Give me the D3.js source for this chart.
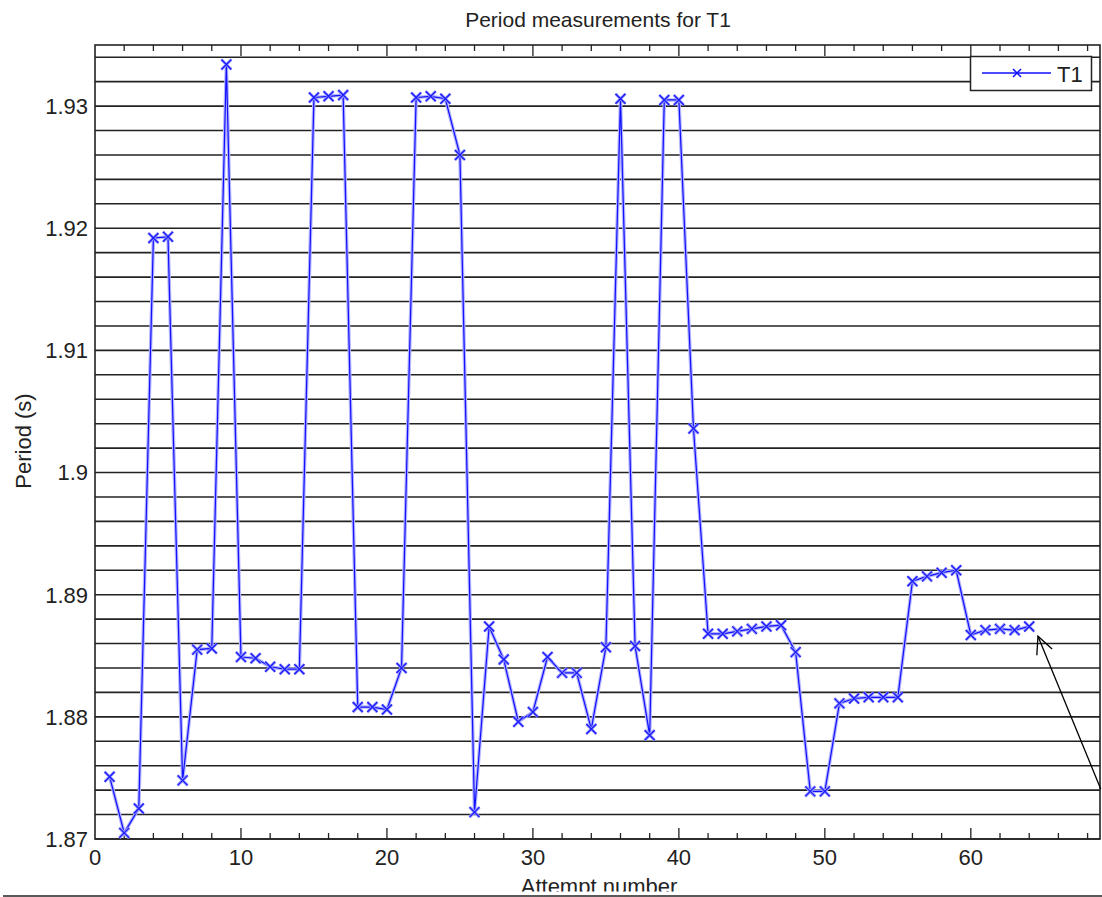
<!DOCTYPE html>
<html>
<head>
<meta charset="utf-8">
<script src="https://cdn.jsdelivr.net/npm/d3@7"></script>
<style>
  body { margin: 0; background: #fff; }
  svg { display: block; font-family: "Liberation Sans", Arial, sans-serif; }
</style>
</head>
<body>
<div id="chart"></div>
<script>
// Period measurements, attempts 1..64
const attempts = d3.range(1, 65);
const periods = [
  1.8751, 1.8705, 1.8725, 1.9192, 1.9193, 1.8748, 1.8855, 1.8856, 1.9334, 1.8849,
  1.8848, 1.8841, 1.8839, 1.8839, 1.9307, 1.9308, 1.9309, 1.8808, 1.8808, 1.8806,
  1.8840, 1.9307, 1.9308, 1.9306, 1.9260, 1.8722, 1.8874, 1.8847, 1.8796, 1.8804,
  1.8849, 1.8836, 1.8836, 1.8790, 1.8857, 1.9306, 1.8858, 1.8785, 1.9305, 1.9305,
  1.9036, 1.8868, 1.8868, 1.8870, 1.8872, 1.8874, 1.8875, 1.8853, 1.8739, 1.8739,
  1.8811, 1.8815, 1.8816, 1.8816, 1.8816, 1.8911, 1.8915, 1.8918, 1.8920, 1.8867,
  1.8871, 1.8872, 1.8871, 1.8874
];
const xTicks = [0, 10, 20, 30, 40, 50, 60];
const yTicks = [1.87, 1.88, 1.89, 1.9, 1.91, 1.92, 1.93];
const seriesName = "T1";
// annotation arrow (tail -> tip) in data units
const arrowTail = [68.9, 1.8741];
const arrowTip = [64.6, 1.8866];

const W = 1102, H = 897;
const margin = {top: 45, right: 2, bottom: 58, left: 95};

const svg = d3.select("#chart").append("svg")
    .attr("width", W)
    .attr("height", H);

const x = d3.scaleLinear().domain([0, 68.85]).range([margin.left, W - margin.right]);
const y = d3.scaleLinear().domain([1.87, 1.935]).range([H - margin.bottom, margin.top]);

const x0 = x.range()[0], x1 = x.range()[1];
const y0 = y.range()[0], y1 = y.range()[1];

// horizontal grid every 0.002
const gridVals = d3.range(0, 33).map(i => 1.87 + i * 0.002).filter(v => v < 1.935 + 1e-9);
svg.append("g")
  .selectAll("line").data(gridVals).enter().append("line")
    .attr("x1", x0).attr("x2", x1)
    .attr("y1", d => y(d)).attr("y2", d => y(d))
    .style("stroke", "#222").style("stroke-width", 1.6);

// x ticks (bottom and top), minor every 2
const minor = d3.range(2, 69, 2).filter(v => v % 10 !== 0);
const tickG = svg.append("g").style("stroke", "#222").style("stroke-width", 1.3);
[[y0, -1], [y1, 1]].forEach(([yy, dir]) => {
  tickG.selectAll(null).data(minor).enter().append("line")
    .attr("x1", d => x(d)).attr("x2", d => x(d))
    .attr("y1", yy).attr("y2", yy + dir * 6);
  tickG.selectAll(null).data(xTicks.slice(1)).enter().append("line")
    .attr("x1", d => x(d)).attr("x2", d => x(d))
    .attr("y1", yy).attr("y2", yy + dir * 11);
});

// frame
svg.append("rect")
    .attr("x", x0).attr("y", y1)
    .attr("width", x1 - x0).attr("height", y0 - y1)
    .style("fill", "none").style("stroke", "#222").style("stroke-width", 1.6);

// tick labels
svg.append("g").selectAll("text").data(xTicks).enter().append("text")
    .attr("x", d => x(d)).attr("y", 865)
    .attr("text-anchor", "middle")
    .style("font-size", "22px").style("fill", "#222")
    .text(d => d);

svg.append("g").selectAll("text").data(yTicks).enter().append("text")
    .attr("x", 88).attr("y", d => y(d)).attr("dy", "0.36em")
    .attr("text-anchor", "end")
    .style("font-size", "22px").style("fill", "#222")
    .text(d => d);

// title + axis labels
svg.append("text")
    .attr("x", 598).attr("y", 26.5)
    .attr("text-anchor", "middle")
    .style("font-size", "21px").style("fill", "#222")
    .text("Period measurements for " + seriesName);

svg.append("text")
    .attr("transform", "translate(31,441) rotate(-90)")
    .attr("text-anchor", "middle")
    .style("font-size", "22px").style("fill", "#222")
    .text("Period (s)");

svg.append("clipPath").attr("id", "cut")
  .append("rect").attr("x", 0).attr("y", 0).attr("width", W).attr("height", 891.5);
svg.append("text")
    .attr("clip-path", "url(#cut)")
    .attr("x", 599).attr("y", 893.5)
    .attr("text-anchor", "middle")
    .style("font-size", "22px").style("fill", "#222")
    .text("Attempt number");

svg.append("line")
    .attr("x1", 3).attr("x2", W).attr("y1", 896).attr("y2", 896)
    .style("stroke", "#222").style("stroke-width", 1.5);

// series
const pts = attempts.map((a, i) => [a, periods[i]]);
const line = d3.line().x(d => x(d[0])).y(d => y(d[1]));

svg.append("path").datum(pts).attr("d", line)
    .style("fill", "none").style("stroke", "#b4b4ff").style("stroke-width", 3.5);
svg.append("path").datum(pts).attr("d", line)
    .style("fill", "none").style("stroke", "#1010ff").style("stroke-width", 1.2);

const m = 5;
const cross = d => `M${x(d[0]) - m},${y(d[1]) - m}L${x(d[0]) + m},${y(d[1]) + m}M${x(d[0]) - m},${y(d[1]) + m}L${x(d[0]) + m},${y(d[1]) - m}`;
svg.append("g").selectAll("path").data(pts).enter().append("path")
    .attr("d", cross)
    .style("fill", "none").style("stroke", "#9a9aff").style("stroke-width", 3);
svg.append("g").selectAll("path").data(pts).enter().append("path")
    .attr("d", cross)
    .style("fill", "none").style("stroke", "#1a1aff").style("stroke-width", 1.3);

// legend
const lg = svg.append("g");
lg.append("rect")
    .attr("x", 970.5).attr("y", 56.5).attr("width", 121).attr("height", 34)
    .style("fill", "#fff").style("stroke", "#222").style("stroke-width", 1.5);
lg.append("line")
    .attr("x1", 982).attr("x2", 1051).attr("y1", 73).attr("y2", 73)
    .style("stroke", "#1010ff").style("stroke-width", 1.5);
lg.append("path")
    .attr("d", "M1013,69L1021,77M1013,77L1021,69")
    .style("stroke", "#1010ff").style("stroke-width", 1.5);
lg.append("text")
    .attr("x", 1057).attr("y", 81.5)
    .style("font-size", "22px").style("fill", "#222")
    .text(seriesName);

// annotation arrow
const tx = x(arrowTip[0]), ty = y(arrowTip[1]);
const sx = x(arrowTail[0]), sy = y(arrowTail[1]);
const ang = Math.atan2(ty - sy, tx - sx);
const hl = 19, ha = 0.45;
svg.append("line")
    .attr("x1", sx).attr("y1", sy).attr("x2", tx).attr("y2", ty)
    .style("stroke", "#000").style("stroke-width", 1.3);
svg.append("path")
    .attr("d", `M${tx - hl * Math.cos(ang - ha)},${ty - hl * Math.sin(ang - ha)}L${tx},${ty}L${tx - hl * Math.cos(ang + ha)},${ty - hl * Math.sin(ang + ha)}`)
    .style("fill", "none").style("stroke", "#000").style("stroke-width", 1.3);
</script>
</body>
</html>
